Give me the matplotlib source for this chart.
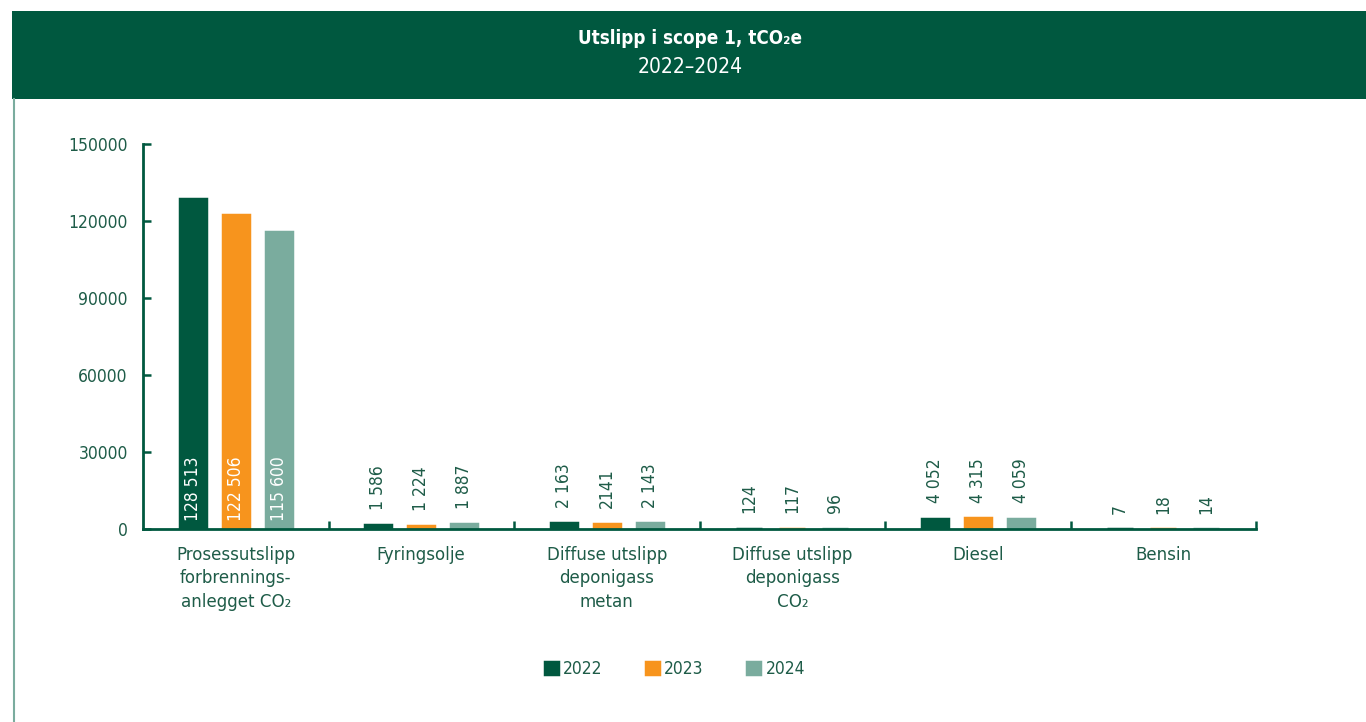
import matplotlib.pyplot as plt
import numpy as np
from matplotlib.patches import Rectangle
from matplotlib.lines import Line2D

# data
categories = ["Prosessutslipp\nforbrennings-\nanlegget CO\u2082", "Fyringsolje",
              "Diffuse utslipp\ndeponigass\nmetan", "Diffuse utslipp\ndeponigass\nCO\u2082",
              "Diesel", "Bensin"]
years = ["2022", "2023", "2024"]
v2022 = [128513, 1586, 2163, 124, 4052, 7]
v2023 = [122506, 1224, 2141, 117, 4315, 18]
v2024 = [115600, 1887, 2143, 96, 4059, 14]
lab2022 = ["128 513", "1 586", "2 163", "124", "4 052", "7"]
lab2023 = ["122 506", "1 224", "2141", "117", "4 315", "18"]
lab2024 = ["115 600", "1 887", "2 143", "96", "4 059", "14"]
yticks = [0, 30000, 60000, 90000, 120000, 150000]

plt.rcParams['font.family'] = ['DejaVu Sans']
plt.rcParams['font.stretch'] = 'condensed'

dark = "#00583F"
orange = "#F7941D"
light = "#7AAC9E"
txt = "#1E5C48"
colors = [dark, orange, light]

fig = plt.figure(figsize=(13.66, 7.22), dpi=100)

# header band and left border line
fig.add_artist(Rectangle((12/1366, 1-99/722), 1354/1366, 88/722,
                         transform=fig.transFigure, color=dark, lw=0))
fig.add_artist(Line2D([14/1366, 14/1366], [0, 1-99/722], transform=fig.transFigure,
                      color=light, lw=1.5))
fig.text(0.505, 1-38/722, "Utslipp i scope 1, tCO\u2082e", ha="center", va="center",
         color="white", fontsize=13.5, fontweight="bold")
fig.text(0.505, 1-67/722, "2022\u20132024", ha="center", va="center",
         color="white", fontsize=15)

ax = fig.add_axes([143/1366, 1-529/722, 1113/1366, 385/722])
x = np.arange(len(categories))
w = 0.142
off = 0.232
series = [v2022, v2023, v2024]
labels = [lab2022, lab2023, lab2024]
for i in range(3):
    xs = x + (i-1)*off
    ax.bar(xs, series[i], width=w, color=colors[i], edgecolor=colors[i], lw=2.5, label=years[i])
    for xx, val, lab in zip(xs, series[i], labels[i]):
        if val > 50000:
            ax.text(xx, 3000, lab, rotation=90, ha="center", va="bottom", color="white", fontsize=12.5)
        else:
            ax.annotate(lab, (xx, val), xytext=(0, 11), textcoords="offset points",
                        rotation=90, ha="center", va="bottom", color=txt, fontsize=12.5)

ax.set_xlim(-0.5, len(categories)-0.5)
ax.set_ylim(0, 150000)
ax.set_yticks(yticks)
ax.set_yticklabels([str(t) for t in yticks])
ax.set_xticks(x)
ax.set_xticklabels(categories, linespacing=1.4)
ax.set_xticks(np.arange(len(categories)) + 0.5, minor=True)
ax.tick_params(axis="x", which="major", length=0, pad=12, labelsize=13.3, labelcolor=txt)
ax.tick_params(axis="x", which="minor", direction="in", length=6, width=1.8, color=dark)
ax.tick_params(axis="y", direction="in", length=6, width=1.8, color=dark, pad=11,
               labelsize=12.5, labelcolor=txt)
for s in ["top", "right"]:
    ax.spines[s].set_visible(False)
for s in ["left", "bottom"]:
    ax.spines[s].set_color(dark)
    ax.spines[s].set_linewidth(2)

handles, leglabels = ax.get_legend_handles_labels()
fig.legend(handles, leglabels, loc="center", bbox_to_anchor=(675/1366, 1-669/722), ncol=3,
           frameon=False, handlelength=0.75, handleheight=0.75, handletextpad=0.3,
           columnspacing=2.5, labelcolor=txt, fontsize=12.5)

fig.savefig("out.png", dpi=100)
